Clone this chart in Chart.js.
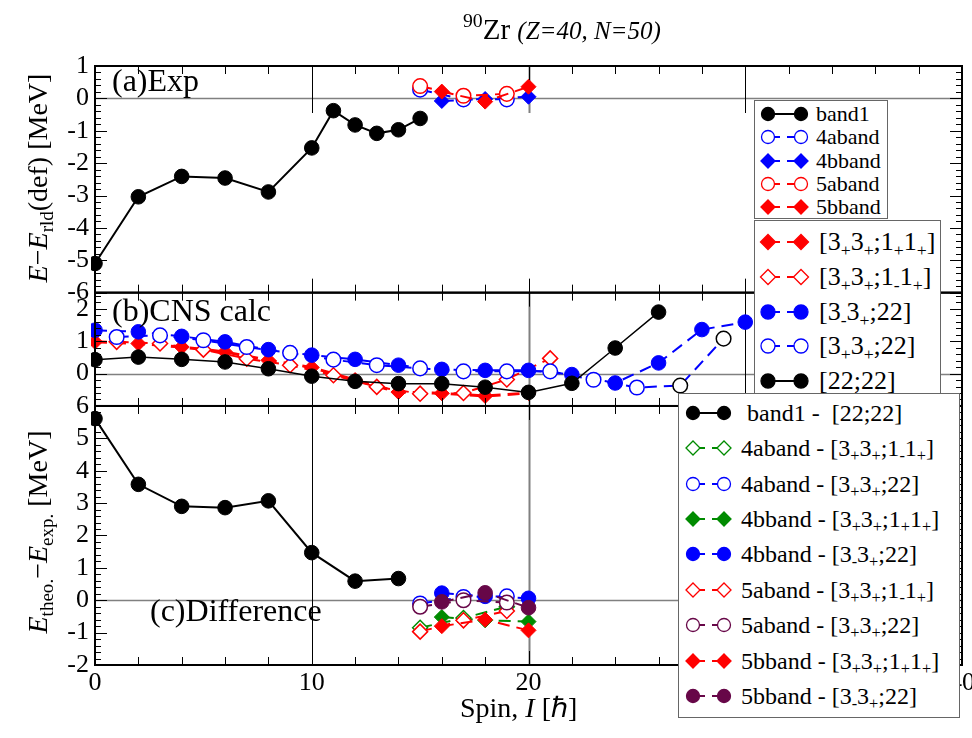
<!DOCTYPE html>
<html>
<head>
<meta charset="utf-8">
<title>90Zr CNS</title>
<script src="https://cdn.jsdelivr.net/npm/chart.js@4.4.1/dist/chart.umd.min.js"></script>
<style>
  body { margin: 0; background: #fff; }
  #page { position: relative; width: 972px; height: 738px; overflow: hidden;
          font-family: "Liberation Serif", "DejaVu Serif", serif; color: #000; }
  #page canvas { position: absolute; left: 0; top: 0; }
  .t { position: absolute; white-space: pre; line-height: 1; font-family: "Liberation Serif", serif; }
  .yt { position: absolute; white-space: pre; line-height: 1; font-size: 28px; font-family: "Liberation Serif", serif;
        transform: translate(-50%, -50%) rotate(-90deg); }
  .leg { position: absolute; background: #fff; border: 1.5px solid #666; box-sizing: border-box;
         font-family: "Liberation Serif", serif; }
  .leg svg { position: absolute; left: 0; }
  .leg span { position: absolute; white-space: pre; line-height: 1; font-family: "Liberation Serif", serif; }
  sub { font-size: 68%; vertical-align: -0.32em; line-height: 0; }
  sup { font-size: 68%; vertical-align: 0.62em; line-height: 0; }
</style>
</head>
<body>
<div id="page">
  <canvas id="cns" width="972" height="738"></canvas>

  <div class="t" style="left:463px;top:15px;font-size:29px"><sup>90</sup>Zr <i style="font-size:25px">(Z=40, N=50)</i></div>
  <div class="yt" style="left:38px;top:178px"><i>E</i>−<i>E</i><sub>rld</sub>(def) [MeV]</div>
  <div class="yt" style="left:38px;top:532px"><i>E</i><sub>theo.</sub>−<i>E</i><sub>exp.</sub> [MeV]</div>
  <div class="t" style="left:460px;top:694px;font-size:28px">Spin, <i>I</i> [ℏ]</div>

  <div class="t" style="left:112px;top:64px;font-size:32px">(a)Exp</div>
  <div class="t" style="left:112px;top:294px;font-size:32px">(b)CNS calc</div>
  <div class="t" style="left:150px;top:594px;font-size:32px">(c)Difference</div>

  <div class="leg" id="legA" style="left:754px;top:100px;width:134px;height:119px"></div>
  <div class="leg" id="legB" style="left:754px;top:220px;width:187px;height:180px"></div>
  <div class="leg" id="legC" style="left:678px;top:393px;width:282px;height:325px"></div>
</div>

<script>
// ---- (a) experiment ----
var spinBand1 = [0, 2, 4, 6, 8, 10, 11, 12, 13, 14, 15];
var expBand1 = [-5.10, -3.04, -2.41, -2.46, -2.89, -1.53, -0.38, -0.82, -1.08, -0.97, -0.62];
var spinOdd = [15, 17, 19];
var spinEven = [16, 18, 20];
var exp4a = [0.27, -0.03, -0.03];
var exp4b = [-0.08, -0.02, 0.05];
var exp5a = [0.38, 0.08, 0.14];
var exp5b = [0.21, -0.10, 0.36];

// ---- (b) CNS calc ----
var spinEven0to30 = [0, 2, 4, 6, 8, 10, 12, 14, 16, 18, 20, 22, 24, 26, 28, 30];
var spinOdd1to29 = [1, 3, 5, 7, 9, 11, 13, 15, 17, 19, 21, 23, 25, 27, 29];
var spinEven0to26 = [0, 2, 4, 6, 8, 10, 12, 14, 16, 18, 20, 22, 24, 26];
var spinEven0to20 = [0, 2, 4, 6, 8, 10, 12, 14, 16, 18, 20];
var spinOdd1to21 = [1, 3, 5, 7, 9, 11, 13, 15, 17, 19, 21];
var cns3p3p1p1p = [0.98, 0.93, 0.82, 0.67, 0.41, 0.19, -0.20, -0.57, -0.61, -0.69, -0.60];
var cns3p3p1m1p = [0.98, 0.93, 0.74, 0.46, 0.26, -0.05, -0.41, -0.62, -0.60, -0.18, 0.47];
var cns3m3p22 = [1.34, 1.29, 1.15, 0.98, 0.74, 0.57, 0.44, 0.26, 0.13, 0.10, 0.10, -0.03, -0.29, 0.33, 1.36, 1.59];
var cns3p3p22 = [1.13, 1.18, 1.03, 0.82, 0.64, 0.43, 0.26, 0.16, 0.07, 0.07, 0.07, -0.19, -0.43, -0.37, 1.08];
var cns2222 = [0.43, 0.51, 0.44, 0.36, 0.15, -0.08, -0.24, -0.31, -0.31, -0.42, -0.58, -0.30, 0.79, 1.90];

// ---- (c) difference ----
var spinDiffBand1 = [0, 2, 4, 6, 8, 10, 12, 14];
var diffBand1 = [5.61, 3.58, 2.90, 2.86, 3.07, 1.47, 0.59, 0.67];
var diff4a1m1p = [-0.85, -0.55, -0.20];
var diff4a22 = [-0.10, 0.10, 0.12];
var diff4b1p1p = [-0.52, -0.62, -0.66];
var diff4b22 = [0.22, 0.12, 0.06];
var diff5a1m1p = [-0.97, -0.62, -0.33];
var diff5a22 = [-0.20, 0.00, -0.07];
var diff5b1p1p = [-0.80, -0.60, -0.93];
var diff5b22 = [-0.05, 0.23, -0.23];

var BLACK = '#000000', BLUE = '#0000ff', RED = '#ff0000', GREEN = '#008b00', MAROON = '#670748';

function series(legend, html, xs, ys, axis, color, shape, filled, dashed, extra) {
    var ds = {
        label: html.replace(/<[^>]+>/g, ''),
        html: html,
        legendGroup: legend,
        data: xs.map(function (x, i) { return { x: x, y: ys[i] }; }),
        yAxisID: axis,
        borderColor: color,
        borderWidth: 2,
        borderDash: dashed ? [12, 7] : [],
        pointStyle: shape,
        pointRadius: shape === 'rectRot' ? 7.5 : 7.3,
        pointHoverRadius: 7,
        pointBackgroundColor: filled ? color : '#ffffff',
        pointBorderColor: color,
        pointBorderWidth: filled ? 1 : 1.5,
        showLine: true,
        fill: false,
        tension: 0,
        clip: { left: 4, top: 0, right: 0, bottom: 0 },
        filled: filled,
        dashed: dashed
    };
    return Object.assign(ds, extra || {});
}

var sub = function (s) { return '<sub>' + s + '</sub>'; };
var c1p1p = '[3' + sub('+') + '3' + sub('+') + ';1' + sub('+') + '1' + sub('+') + ']';
var c1m1p = '[3' + sub('+') + '3' + sub('+') + ';1' + sub('-') + '1' + sub('+') + ']';
var c3m22 = '[3' + sub('-') + '3' + sub('+') + ';22]';
var c3p22 = '[3' + sub('+') + '3' + sub('+') + ';22]';

var datasets = [
    series('A', 'band1', spinBand1, expBand1, 'ya', BLACK, 'circle', true, false),
    series('A', '4aband', spinOdd, exp4a, 'ya', BLUE, 'circle', false, true),
    series('A', '4bband', spinEven, exp4b, 'ya', BLUE, 'rectRot', true, true),
    series('A', '5aband', spinOdd, exp5a, 'ya', RED, 'circle', false, true),
    series('A', '5bband', spinEven, exp5b, 'ya', RED, 'rectRot', true, true),

    series('B', c1p1p, spinEven0to20, cns3p3p1p1p, 'yb', RED, 'rectRot', true, true, { borderWidth: 3 }),
    series('B', c1m1p, spinOdd1to21, cns3p3p1m1p, 'yb', RED, 'rectRot', false, true),
    series('B', c3m22, spinEven0to30, cns3m3p22, 'yb', BLUE, 'circle', true, true),
    series('B', c3p22, spinOdd1to29, cns3p3p22, 'yb', BLUE, 'circle', false, true,
        { pointBorderColor: spinOdd1to29.map(function (s) { return s >= 27 ? BLACK : BLUE; }) }),
    series('B', '[22;22]', spinEven0to26, cns2222, 'yb', BLACK, 'circle', true, false, { borderWidth: 1.5 }),

    series('C', ' band1 -  [22;22]', spinDiffBand1, diffBand1, 'yc', BLACK, 'circle', true, false),
    series('C', '4aband - ' + c1m1p, spinOdd, diff4a1m1p, 'yc', GREEN, 'rectRot', false, true),
    series('C', '4aband - ' + c3p22, spinOdd, diff4a22, 'yc', BLUE, 'circle', false, true),
    series('C', '4bband - ' + c1p1p, spinEven, diff4b1p1p, 'yc', GREEN, 'rectRot', true, true),
    series('C', '4bband - ' + c3m22, spinEven, diff4b22, 'yc', BLUE, 'circle', true, true),
    series('C', '5aband - ' + c1m1p, spinOdd, diff5a1m1p, 'yc', RED, 'rectRot', false, true),
    series('C', '5aband - ' + c3p22, spinOdd, diff5a22, 'yc', MAROON, 'circle', false, true),
    series('C', '5bband - ' + c1p1p, spinEven, diff5b1p1p, 'yc', RED, 'rectRot', true, true),
    series('C', '5bband - ' + c3m22, spinEven, diff5b22, 'yc', MAROON, 'circle', true, true)
];
// later sets are painted over earlier ones, like in the original plot
datasets.forEach(function (ds, i) { ds.order = -i; });

// guides: zero line, and lines at the major x ticks (full or partial from the top)
var guides = { ya: { full: false, topLen: 47 }, yb: { full: true }, yc: { full: true } };

function drawGuides(chart) {
    var ctx = chart.ctx, xs = chart.scales.x;
    Object.keys(guides).forEach(function (id) {
        var ys = chart.scales[id], g = guides[id];
        ctx.save();
        var y0 = Math.round(ys.getPixelForValue(0)) + 0.5;
        ctx.strokeStyle = '#808080';
        ctx.lineWidth = 1.5;
        ctx.beginPath(); ctx.moveTo(xs.left, y0); ctx.lineTo(xs.right, y0); ctx.stroke();
        [10, 20, 30].forEach(function (v) {
            var px = Math.round(xs.getPixelForValue(v)) + 0.5;
            ctx.strokeStyle = v === 20 ? '#808080' : '#000';
            ctx.lineWidth = v === 20 ? 2 : 1;
            ctx.beginPath();
            ctx.moveTo(px, ys.top);
            ctx.lineTo(px, g.full ? ys.bottom : ys.top + g.topLen);
            ctx.stroke();
        });
        ctx.restore();
    });
}

function drawFrame(chart, id) {
    var ctx = chart.ctx, xs = chart.scales.x, ys = chart.scales[id];
    var L = xs.left, R = xs.right, T = ys.top, B = ys.bottom;
    ctx.save();
    ctx.strokeStyle = '#000';
    ctx.lineWidth = 1;
    ctx.beginPath();
    for (var v = 0; v <= xs.max; v += 2) {
        var px = Math.round(xs.getPixelForValue(v)) + 0.5;
        var major = v % 10 === 0;
        ctx.moveTo(px, B); ctx.lineTo(px, B - (major ? 14 : 8));
        ctx.moveTo(px, T); ctx.lineTo(px, T + (major ? 14 : 8));
    }
    for (var k = Math.ceil(ys.min * 5); k <= Math.floor(ys.max * 5); k++) {
        var py = Math.round(ys.getPixelForValue(k / 5)) + 0.5;
        var len = k % 5 === 0 ? 12 : 6;
        ctx.moveTo(L, py); ctx.lineTo(L + len, py);
        ctx.moveTo(R, py); ctx.lineTo(R - len, py);
    }
    ctx.stroke();
    ctx.lineWidth = 2;
    ctx.strokeRect(L, T, R - L, B - T);
    ctx.restore();
}

var framePlugin = {
    id: 'frames',
    beforeDatasetsDraw: function (chart) { drawGuides(chart); },
    afterDatasetsDraw: function (chart) { ['ya', 'yb', 'yc'].forEach(function (id) { drawFrame(chart, id); }); }
};

var tickFont = { family: '"Liberation Serif", serif', size: 26 };

function yScale(min, max, weight, stackWeight, lowestLabel) {
    return {
        type: 'linear', position: 'left', stack: 'panels', stackWeight: stackWeight, weight: weight,
        min: min, max: max,
        grid: { display: false, drawTicks: false },
        border: { display: false },
        ticks: {
            stepSize: 1, autoSkip: false, includeBounds: false, color: '#000', font: tickFont, padding: 6,
            callback: function (v) { return v >= lowestLabel ? v : ''; }
        },
        afterFit: function (s) { s.width = 95; s.paddingTop = 0; s.paddingBottom = 0; }
    };
}

var scaleYa = yScale(-6, 1, 3, 7, -6);
var scaleYb = yScale(-1, 2.5, 2, 3.5, 0);
var scaleYc = yScale(-2, 6, 1, 8, -2);

new Chart(document.getElementById('cns').getContext('2d'), {
    type: 'line',
    data: { datasets: datasets },
    options: {
        responsive: false,
        animation: false,
        devicePixelRatio: 1,
        layout: { padding: { top: 66, right: 10, left: 0, bottom: 0 } },
        plugins: { legend: { display: false }, tooltip: { enabled: false } },
        events: [],
        scales: {
            x: {
                type: 'linear', position: 'bottom', min: 0, max: 40,
                grid: { display: false, drawTicks: false },
                border: { display: false },
                ticks: { stepSize: 10, color: '#000', font: tickFont, padding: 3, maxRotation: 0, autoSkip: false },
                afterFit: function (s) { s.height = 73; s.paddingLeft = 0; s.paddingRight = 0; }
            },
            ya: scaleYa,
            yb: scaleYb,
            yc: scaleYc
        }
    },
    plugins: [framePlugin]
});

// legends, built from the same dataset list
var legendGeom = {
    A: { first: 13, step: 23.3, m1: 13, m2: 46, text: 61, font: 22, r: 6.5 },
    B: { first: 21, step: 34.8, m1: 13, m2: 46, text: 64, font: 26, r: 7 },
    C: { first: 18.7, step: 35.4, m1: 14, m2: 45, text: 62, font: 24, r: 6.5 }
};

function markerSvg(ds, g) {
    var h = 24, cy = 12, stroke = ds.borderColor;
    var fill = ds.filled ? stroke : '#fff';
    var dash = ds.dashed ? ' stroke-dasharray="12 7"' : '';
    var shape = function (cx) {
        if (ds.pointStyle === 'rectRot') {
            var d = g.r + 0.5;
            return '<polygon points="' + (cx - d) + ',' + cy + ' ' + cx + ',' + (cy - d) + ' ' + (cx + d) + ',' + cy + ' ' + cx + ',' + (cy + d) +
                '" fill="' + fill + '" stroke="' + stroke + '" stroke-width="1.3"/>';
        }
        return '<circle cx="' + cx + '" cy="' + cy + '" r="' + g.r + '" fill="' + fill + '" stroke="' + stroke + '" stroke-width="1.3"/>';
    };
    return '<svg width="' + (g.m2 + 10) + '" height="' + h + '" style="top:-12px">' +
        '<line x1="' + g.m1 + '" y1="' + cy + '" x2="' + g.m2 + '" y2="' + cy + '" stroke="' + stroke + '" stroke-width="2"' + dash + '/>' +
        shape(g.m1) + shape(g.m2) + '</svg>';
}

['A', 'B', 'C'].forEach(function (key) {
    var g = legendGeom[key], box = document.getElementById('leg' + key), html = '';
    datasets.filter(function (d) { return d.legendGroup === key; }).forEach(function (ds, i) {
        var cy = g.first + i * g.step;
        html += '<div style="position:absolute;left:0;top:' + cy + 'px">' + markerSvg(ds, g) +
            '<span style="left:' + g.text + 'px;top:' + (-g.font * 0.5) + 'px;font-size:' + g.font + 'px">' + ds.html + '</span></div>';
    });
    box.innerHTML = html;
});
</script>
</body>
</html>
